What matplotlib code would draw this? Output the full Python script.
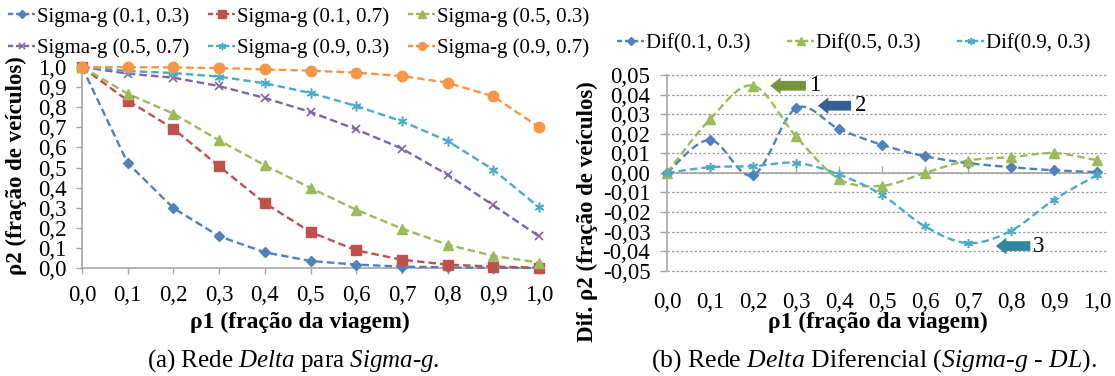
import numpy as np
import matplotlib
matplotlib.use('Agg')
import matplotlib.pyplot as plt
from matplotlib.patches import FancyArrowPatch, ArrowStyle
from matplotlib.lines import Line2D

plt.rcParams['font.family'] = ['Liberation Serif', 'DejaVu Serif']
plt.rcParams['mathtext.fontset'] = 'custom'
plt.rcParams['mathtext.rm'] = 'Liberation Serif'
plt.rcParams['mathtext.it'] = 'Liberation Serif:italic'

# ---------------- data ----------------
x_vals = [0.0, 0.1, 0.2, 0.3, 0.4, 0.5, 0.6, 0.7, 0.8, 0.9, 1.0]
x_ticklabels = ['0,0', '0,1', '0,2', '0,3', '0,4', '0,5', '0,6', '0,7', '0,8', '0,9', '1,0']
left_yticks = [0.0, 0.1, 0.2, 0.3, 0.4, 0.5, 0.6, 0.7, 0.8, 0.9, 1.0]
left_yticklabels = ['0,0', '0,1', '0,2', '0,3', '0,4', '0,5', '0,6', '0,7', '0,8', '0,9', '1,0']

sig_01_03 = [1.0, 0.522, 0.298, 0.158, 0.078, 0.035, 0.017, 0.007, 0.003, 0.001, 0.0]
sig_01_07 = [1.0, 0.833, 0.693, 0.506, 0.323, 0.179, 0.088, 0.041, 0.017, 0.007, 0.002]
sig_05_03 = [1.0, 0.867, 0.768, 0.635, 0.511, 0.398, 0.290, 0.196, 0.116, 0.060, 0.027]
sig_05_07 = [1.0, 0.967, 0.947, 0.905, 0.846, 0.776, 0.690, 0.594, 0.464, 0.312, 0.158]
sig_09_03 = [1.0, 0.980, 0.970, 0.952, 0.919, 0.871, 0.806, 0.730, 0.632, 0.489, 0.302]
sig_09_07 = [1.0, 0.999, 0.998, 0.995, 0.988, 0.982, 0.972, 0.955, 0.922, 0.854, 0.701]

left_labels = ['Sigma-g (0.1, 0.3)', 'Sigma-g (0.1, 0.7)', 'Sigma-g (0.5, 0.3)',
               'Sigma-g (0.5, 0.7)', 'Sigma-g (0.9, 0.3)', 'Sigma-g (0.9, 0.7)']

dif_01_03 = [0.0, 0.0168, -0.0012, 0.0330, 0.0224, 0.0143, 0.0085, 0.0050, 0.0029, 0.0013, 0.0004]
dif_05_03 = [0.0, 0.0274, 0.0446, 0.0186, -0.0031, -0.0066, 0.0000, 0.0063, 0.0080, 0.0101, 0.0064]
dif_09_03 = [0.0, 0.0029, 0.0034, 0.0051, -0.0008, -0.0113, -0.0274, -0.0359, -0.0296, -0.0137, -0.0011]
right_labels = ['Dif(0.1, 0.3)', 'Dif(0.5, 0.3)', 'Dif(0.9, 0.3)']
right_yticks = [0.05, 0.04, 0.03, 0.02, 0.01, 0.0, -0.01, -0.02, -0.03, -0.04, -0.05]
right_yticklabels = ['0,05', '0,04', '0,03', '0,02', '0,01', '0,00',
                     '-0,01', '-0,02', '-0,03', '-0,04', '-0,05']

# annotations
arrow_labels = ['1', '2', '3']
arrow_head_x = [0.240, 0.351, 0.765]
arrow_tail_x = [0.323, 0.428, 0.845]
arrow_y = [0.0445, 0.0343, -0.0374]
arrow_text_x = [0.343, 0.450, 0.863]

# ---------------- style ----------------
W, H = 1115, 376
BLUE = '#4F81BD'; RED = '#C0504D'; GREEN = '#9BBB59'
PURPLE = '#8064A2'; CYAN = '#4BACC6'; ORANGE = '#F79646'
AXC = '#A6A6A6'
ARROW_COLORS = ['#77933C', '#376092', '#31859C']
DASH = (3.2, 1.7)
LW = 1.7
TICK_FS = 16.5
LABEL_FS = 16.5
LEG_FS = 15

STAR = (6, 2, 0)
left_styles = [
    dict(color=BLUE, marker='D', ms=5.5),
    dict(color=RED, marker='s', ms=7),
    dict(color=GREEN, marker='^', ms=7.5),
    dict(color=PURPLE, marker='x', ms=6, mew=1.2),
    dict(color=CYAN, marker=STAR, ms=7, mew=1.1),
    dict(color=ORANGE, marker='o', ms=7.5),
]
right_styles = [
    dict(color=BLUE, marker='D', ms=5),
    dict(color=GREEN, marker='^', ms=6.5),
    dict(color=CYAN, marker=STAR, ms=6.5, mew=1.1),
]


def px(x):
    return x / W


def py(y):
    return 1 - y / H


def smooth(xs, ys, n=24):
    """Cubic Bezier (Catmull-Rom style) smoothing like Excel's smoothed line."""
    xs = np.asarray(xs, float); ys = np.asarray(ys, float)
    P = np.column_stack([xs, ys])
    out = [P[0]]
    for i in range(len(P) - 1):
        p0 = P[i - 1] if i > 0 else P[i]
        p1 = P[i]; p2 = P[i + 1]
        p3 = P[i + 2] if i + 2 < len(P) else P[i + 1]
        c1 = p1 + (p2 - p0) / 6.0
        c2 = p2 - (p3 - p1) / 6.0
        t = np.linspace(0, 1, n)[1:, None]
        seg = ((1 - t) ** 3) * p1 + 3 * ((1 - t) ** 2) * t * c1 + 3 * (1 - t) * t ** 2 * c2 + t ** 3 * p2
        out.extend(seg)
    out = np.array(out)
    return out[:, 0], out[:, 1]


fig = plt.figure(figsize=(W / 100, H / 100), dpi=100)

# ---------------- left chart ----------------
ax1 = fig.add_axes([px(82), py(268), px(539 - 82), (268 - 67) / H])
series_left = [sig_01_03, sig_01_07, sig_05_03, sig_05_07, sig_09_03, sig_09_07]
handles_left = []
for ys, st, lab in zip(series_left, left_styles, left_labels):
    ax1.plot(x_vals, ys, color=st['color'], lw=LW, dashes=DASH, clip_on=False, zorder=3)
    ax1.plot(x_vals, ys, ls='none', marker=st['marker'], ms=st['ms'], color=st['color'],
             mew=st.get('mew', 1), clip_on=False, zorder=4)
    handles_left.append(Line2D([], [], color=st['color'], lw=LW, dashes=(2.2, 1.2),
                               marker=st['marker'], ms=st['ms'] * 0.75, mew=st.get('mew', 1)))
ax1.set_xlim(0, 1)
ax1.set_ylim(0, 1)
ax1.set_xticks(x_vals)
ax1.set_xticklabels(x_ticklabels)
ax1.set_yticks(left_yticks)
ax1.set_yticklabels(left_yticklabels)
for s in ['top', 'right']:
    ax1.spines[s].set_visible(False)
for s in ['left', 'bottom']:
    ax1.spines[s].set_color(AXC)
    ax1.spines[s].set_linewidth(1.2)
ax1.tick_params(axis='both', direction='out', length=4, width=1, color=AXC, labelsize=TICK_FS)
ax1.tick_params(axis='x', pad=8)
ax1.tick_params(axis='y', pad=7)

fig.text(px(16), py(166), 'ρ2 (fração de veículos)', rotation=90, ha='center', va='center',
         fontsize=LABEL_FS, fontweight='bold')
fig.text(px(300), py(322), 'ρ1 (fração da viagem)', ha='center', va='center',
         fontsize=17, fontweight='bold')

order = [0, 3, 1, 4, 2, 5]
fig.legend([handles_left[i] for i in order], [left_labels[i] for i in order],
           loc='upper left', bbox_to_anchor=(px(8), py(7)), ncol=3, frameon=False,
           fontsize=LEG_FS, handlelength=1.3, handletextpad=0.1, columnspacing=0.9,
           labelspacing=0.55, borderpad=0, borderaxespad=0)

# ---------------- right chart ----------------
ax2 = fig.add_axes([px(667), py(270.7), px(1097 - 667), (270.7 - 75) / H])
ax2.set_xlim(0, 1)
ax2.set_ylim(-0.05, 0.05)
ax2.hlines(right_yticks, 0, 1.025, colors='#A0A0A0', lw=0.9, linestyles=(0, (2, 1.6)),
           clip_on=False, zorder=1)
ax2.axhline(0, color=AXC, lw=1.2, zorder=2)
series_right = [dif_01_03, dif_05_03, dif_09_03]
handles_right = []
for ys, st in zip(series_right, right_styles):
    sx, sy = smooth(x_vals, ys)
    ax2.plot(sx, sy, color=st['color'], lw=LW, dashes=DASH, clip_on=False, zorder=3)
    ax2.plot(x_vals, ys, ls='none', marker=st['marker'], ms=st['ms'], color=st['color'],
             mew=st.get('mew', 1), clip_on=False, zorder=4)
    handles_right.append(Line2D([], [], color=st['color'], lw=LW, dashes=(2.2, 1.2),
                                marker=st['marker'], ms=st['ms'] * 0.8, mew=st.get('mew', 1)))
ax2.set_yticks(right_yticks)
ax2.set_yticklabels(right_yticklabels)
ax2.set_xticks(x_vals)
ax2.set_xticklabels(x_ticklabels)
for s in ['top', 'right', 'bottom']:
    ax2.spines[s].set_visible(False)
ax2.spines['left'].set_color(AXC)
ax2.spines['left'].set_linewidth(1.2)
ax2.tick_params(axis='y', direction='out', length=5, width=1, color=AXC, labelsize=TICK_FS, pad=7)
ax2.tick_params(axis='x', length=0, labelsize=TICK_FS, pad=15)
sec = ax2.secondary_xaxis(0.5)
sec.set_xticks(x_vals)
sec.set_xticklabels([''] * len(x_vals))
sec.tick_params(direction='out', length=5, width=1, color=AXC,
                labelbottom=False, labeltop=False)
for s in sec.spines.values():
    s.set_visible(False)

for lab, hx, tx, y, txx, c in zip(arrow_labels, arrow_head_x, arrow_tail_x, arrow_y,
                                  arrow_text_x, ARROW_COLORS):
    arr = FancyArrowPatch((tx, y), (hx, y),
                          arrowstyle=ArrowStyle.Simple(head_length=7.5, head_width=12, tail_width=7),
                          mutation_scale=1, color=c, lw=0, shrinkA=0, shrinkB=0, zorder=5,
                          clip_on=False)
    ax2.add_patch(arr)
    ax2.text(txx, y, lab, ha='center', va='center', fontsize=TICK_FS, zorder=5)

fig.text(px(587), py(212), 'Dif. ρ2 (fração de veículos)', rotation=90, ha='center', va='center',
         fontsize=LABEL_FS, fontweight='bold')
fig.text(px(878), py(322), 'ρ1 (fração da viagem)', ha='center', va='center',
         fontsize=17, fontweight='bold')

fig.legend(handles_right, right_labels, loc='upper left', bbox_to_anchor=(px(617), py(34)),
           ncol=3, frameon=False, fontsize=LEG_FS, handlelength=1.3, handletextpad=0.1,
           columnspacing=1.75, borderpad=0, borderaxespad=0)

# ---------------- captions ----------------
fig.text(px(293), py(361), r'(a) Rede $\mathit{Delta}$ para $\mathit{Sigma}$-$\mathit{g}$.',
         ha='center', va='center', fontsize=18)
fig.text(px(874), py(361), r'(b) Rede $\mathit{Delta}$ Diferencial ($\mathit{Sigma}$-$\mathit{g}$ - $\mathit{DL}$).',
         ha='center', va='center', fontsize=18.5)

fig.savefig('out.png', dpi=100)
